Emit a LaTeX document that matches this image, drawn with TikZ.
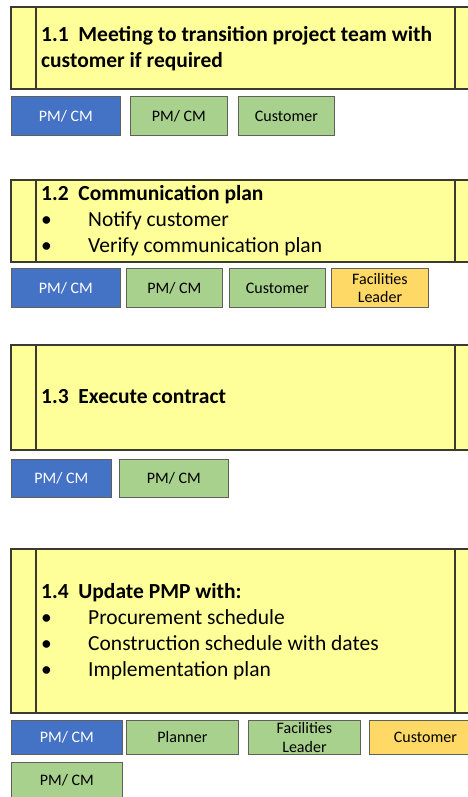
\documentclass[tikz,border=0pt]{standalone}
\usepackage{fontspec}
\setmainfont{Carlito}
\usepackage{tikz}

\definecolor{stepyellow}{HTML}{FFFF99}
\definecolor{leadblue}{HTML}{4472C4}
\definecolor{rolegreen}{HTML}{A9D18E}
\definecolor{roleorange}{HTML}{FFD966}
\definecolor{edgegray}{HTML}{3A3A30}

\tikzset{
  stepline/.style={draw=edgegray, line width=1.2pt},
  steptext/.style={anchor=west, inner sep=0pt, align=left, font=\fontsize{21.5}{26}\selectfont},
  role/.style={anchor=north west, draw=edgegray!80, line width=0.9pt, fill=rolegreen, inner sep=0pt,
    align=center, font=\fontsize{16}{18.5}\selectfont},
  lead/.style={role, fill=leadblue, text=white},
  fac/.style={role, fill=roleorange}
}
\newcommand{\bul}{\makebox[47pt][l]{\textbullet}}

\begin{document}
\begin{tikzpicture}[x=1pt, y=-1pt]
\useasboundingbox (0,0) rectangle (467,797);

% step 1.1
\fill[stepyellow] (11,7) rectangle (468,89);
\draw[stepline] (468,7) -- (11,7) -- (11,89) -- (468,89);
\draw[stepline] (36,7) -- (36,89) (455,7) -- (455,89);
\node[steptext] (s11) at (41,48.5) {\textbf{1.1\hspace{0.45em}Meeting to transition project team with}\\\textbf{customer if required}};
\node[lead, minimum width=109pt, minimum height=39pt] (r11a) at (11,96) {PM/ CM};
\node[role, minimum width=97pt, minimum height=39pt] (r11b) at (130,96) {PM/ CM};
\node[role, minimum width=96pt, minimum height=39pt] (r11c) at (238,96) {Customer};

% step 1.2
\fill[stepyellow] (11,180) rectangle (468,262);
\draw[stepline] (468,180) -- (11,180) -- (11,262) -- (468,262);
\draw[stepline] (36,180) -- (36,262) (455,180) -- (455,262);
\node[steptext] (s12) at (41,221) {\textbf{1.2\hspace{0.45em}Communication plan}\\\bul Notify customer\\\bul Verify communication plan};
\node[lead, minimum width=109pt, minimum height=39pt] (r12a) at (11,268) {PM/ CM};
\node[role, minimum width=96pt, minimum height=39pt] (r12b) at (126,268) {PM/ CM};
\node[role, minimum width=96pt, minimum height=39pt] (r12c) at (229,268) {Customer};
\node[fac, minimum width=97pt, minimum height=39pt] (r12d) at (331,268) {Facilities\\Leader};

% step 1.3
\fill[stepyellow] (11,345) rectangle (468,450);
\draw[stepline] (468,345) -- (11,345) -- (11,450) -- (468,450);
\draw[stepline] (36,345) -- (36,450) (455,345) -- (455,450);
\node[steptext] (s13) at (41,397) {\textbf{1.3\hspace{0.45em}Execute contract}};
\node[lead, minimum width=100pt, minimum height=38pt] (r13a) at (11,459) {PM/ CM};
\node[role, minimum width=109pt, minimum height=38pt] (r13b) at (119,459) {PM/ CM};

% step 1.4
\fill[stepyellow] (11,549) rectangle (468,713);
\draw[stepline] (468,549) -- (11,549) -- (11,713) -- (468,713);
\draw[stepline] (36,549) -- (36,713) (455,549) -- (455,713);
\node[steptext] (s14) at (41,632) {\textbf{1.4\hspace{0.45em}Update PMP with:}\\\bul Procurement schedule\\\bul Construction schedule with dates\\\bul Implementation plan};
\node[lead, minimum width=111pt, minimum height=34pt] (r14a) at (11,720) {PM/ CM};
\node[role, minimum width=112pt, minimum height=34pt] (r14b) at (126,720) {Planner};
\node[role, minimum width=112pt, minimum height=34pt] (r14c) at (248,720) {Facilities\\Leader};
\node[fac, minimum width=112pt, minimum height=34pt] (r14d) at (369,720) {Customer};
\node[role, minimum width=111pt, minimum height=35pt] (r14e) at (11,762) {PM/ CM};

\end{tikzpicture}
\end{document}
